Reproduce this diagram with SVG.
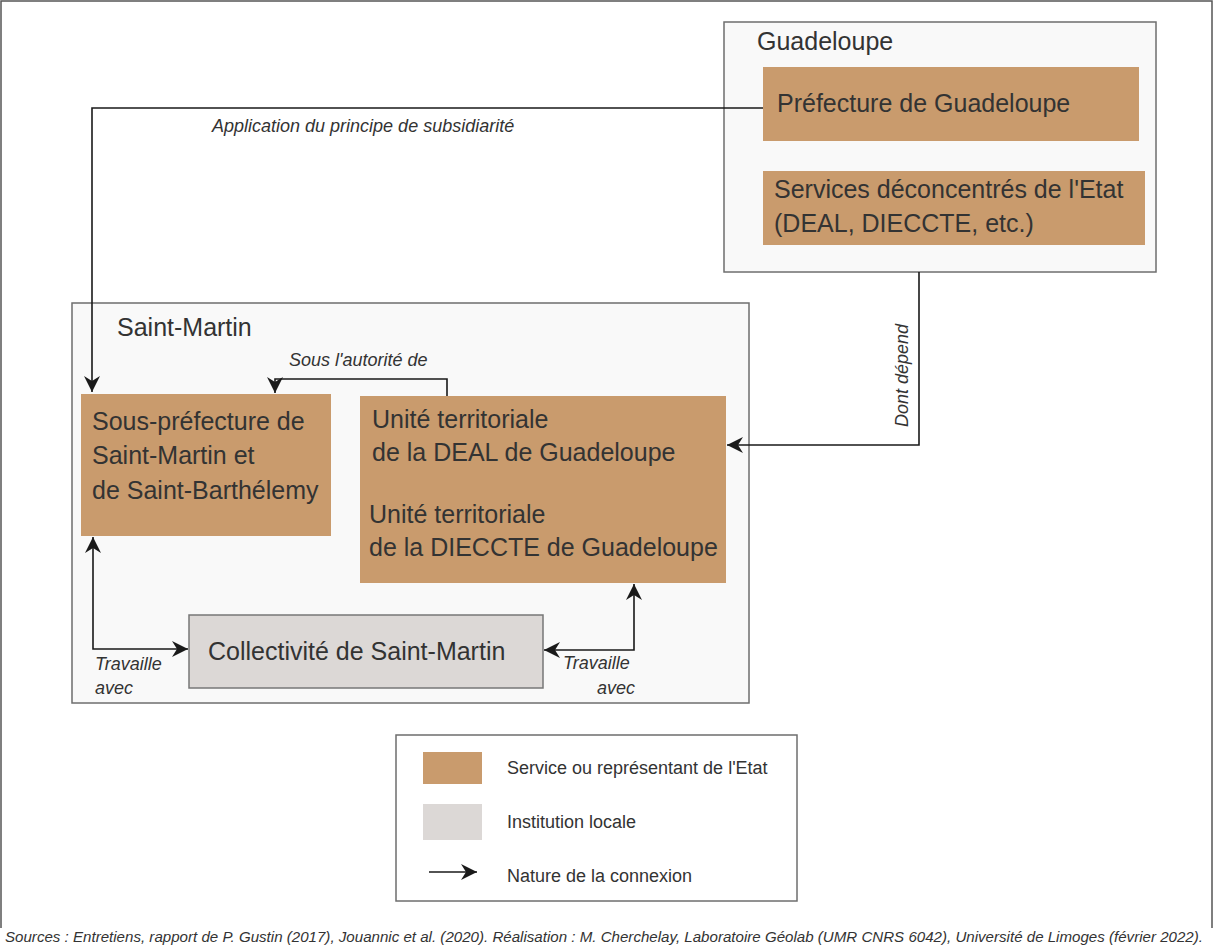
<svg xmlns="http://www.w3.org/2000/svg" width="1214" height="952" viewBox="0 0 1214 952">
<defs>
<marker id="ah" markerUnits="userSpaceOnUse" viewBox="-17 -9 18 18" markerWidth="18" markerHeight="18" refX="0" refY="0" orient="auto-start-reverse">
<path d="M0,0 L-16,-8 L-11,0 L-16,8 Z" fill="#1a1a1a"/>
</marker>
<style>
.frame{fill:none;stroke:#555;stroke-width:1.5}
.cont{fill:#f9f9f9;stroke:#6e6e6e;stroke-width:1.5}
.state{fill:#c99b6d}
.local{fill:#dcd8d6;stroke:#777;stroke-width:1.5}
.t{font-family:"Liberation Sans",Arial,sans-serif;fill:#333;font-size:25px}
.lt{font-family:"Liberation Sans",Arial,sans-serif;fill:#333;font-size:18px}
.it{font-family:"Liberation Sans",Arial,sans-serif;fill:#333;font-size:18px;font-style:italic}
.conn{fill:none;stroke:#1a1a1a;stroke-width:1.6}
</style>
</defs>
<rect width="1214" height="952" fill="#ffffff"/>
<path class="frame" d="M1,928 V1 H1212 V928"/>

<g id="guadeloupe">
<rect class="cont" x="724" y="22" width="432" height="250"/>
<text class="t" x="757" y="50">Guadeloupe</text>
</g>
<g id="prefecture">
<rect class="state" x="763" y="67" width="376" height="74"/>
<text class="t" x="777" y="112">Préfecture de Guadeloupe</text>
</g>
<g id="services">
<rect class="state" x="763" y="171" width="382" height="74"/>
<text class="t" x="774" y="198">Services déconcentrés de l'Etat</text>
<text class="t" x="774" y="232">(DEAL, DIECCTE, etc.)</text>
</g>

<g id="saint-martin">
<rect class="cont" x="72" y="303" width="677" height="400"/>
<text class="t" x="117" y="336">Saint-Martin</text>
</g>
<g id="sous-prefecture">
<rect class="state" x="81" y="394" width="250" height="142"/>
<text class="t" x="92" y="430">Sous-préfecture de</text>
<text class="t" x="92" y="464">Saint-Martin et</text>
<text class="t" x="92" y="499">de Saint-Barthélemy</text>
</g>
<g id="unites">
<rect class="state" x="360" y="396" width="366" height="187"/>
<text class="t" x="372" y="428">Unité territoriale</text>
<text class="t" x="372" y="461">de la DEAL de Guadeloupe</text>
<text class="t" x="369" y="523">Unité territoriale</text>
<text class="t" x="369" y="556">de la DIECCTE de Guadeloupe</text>
</g>
<g id="collectivite">
<rect class="local" x="189" y="615" width="354" height="73"/>
<text class="t" x="208" y="660">Collectivité de Saint-Martin</text>
</g>

<g id="connectors">
<path class="conn" d="M763,108 H92 V392" marker-end="url(#ah)"/>
<path class="conn" d="M919,272 V445 H727" marker-end="url(#ah)"/>
<path class="conn" d="M447,396 V379 H275 V393" marker-end="url(#ah)"/>
<path class="conn" d="M93,537 V649 H188" marker-start="url(#ah)" marker-end="url(#ah)"/>
<path class="conn" d="M544,650 H634 V584" marker-start="url(#ah)" marker-end="url(#ah)"/>
<text class="it" x="212" y="132">Application du principe de subsidiarité</text>
<text class="it" transform="translate(908,427) rotate(-90)">Dont dépend</text>
<text class="it" x="289" y="366">Sous l'autorité de</text>
<text class="it" x="95" y="670">Travaille</text>
<text class="it" x="95" y="694">avec</text>
<text class="it" x="563" y="669">Travaille</text>
<text class="it" x="597" y="694">avec</text>
</g>

<g id="legend">
<rect x="396" y="735" width="401" height="166" fill="#ffffff" stroke="#6e6e6e" stroke-width="1.5"/>
<rect class="state" x="423" y="752" width="59" height="32"/>
<rect x="423" y="804" width="59" height="36" fill="#dcd8d6"/>
<line class="conn" x1="429" y1="872" x2="477" y2="872" marker-end="url(#ah)"/>
<text class="lt" x="507" y="774">Service ou représentant de l'Etat</text>
<text class="lt" x="507" y="828">Institution locale</text>
<text class="lt" x="507" y="882">Nature de la connexion</text>
</g>

<text class="it" x="5" y="942" textLength="1198" lengthAdjust="spacingAndGlyphs" style="font-size:15px">Sources : Entretiens, rapport de P. Gustin (2017), Jouannic et al. (2020). Réalisation : M. Cherchelay, Laboratoire Géolab (UMR CNRS 6042), Université de Limoges (février 2022).</text>
</svg>
